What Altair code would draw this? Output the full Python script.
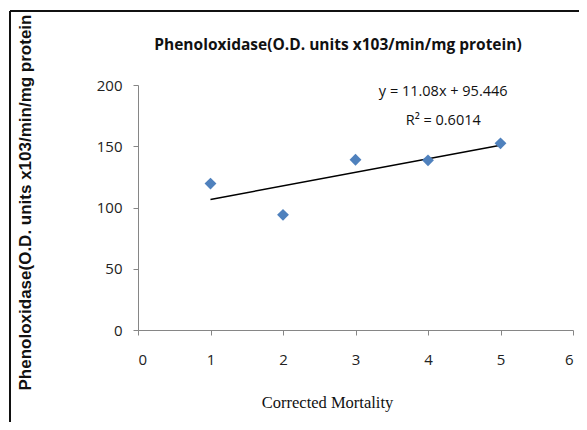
import altair as alt
import pandas as pd

# Data
mortality = [1, 2, 3, 4, 5]
phenoloxidase = [119.5, 94.0, 139.0, 138.5, 152.4]

equation_lines = ["y = 11.08x + 95.446", "R² = 0.6014"]
eq_x = [4.21, 4.21]
eq_y = [194, 171]

title_text = "Phenoloxidase(O.D. units x103/min/mg protein)"
y_title = "Phenoloxidase(O.D. units x103/min/mg protein"
x_title = "Corrected Mortality"

df = pd.DataFrame({"x": mortality, "y": phenoloxidase})
eq_df = pd.DataFrame({"x": eq_x, "y": eq_y, "t": equation_lines})

xscale = alt.Scale(domain=[0, 6], nice=False, zero=False)
yscale = alt.Scale(domain=[0, 200], nice=False)

axis_common = dict(
    grid=False,
    domainColor="#868686",
    tickColor="#868686",
    tickSize=5,
    labelFont="Open Sans",
    labelFontSize=15,
    labelColor="#222222",
    format="d",
)

base = alt.Chart(df)

points = base.mark_point(
    shape="diamond", filled=True, color="#4F81BD", size=140, opacity=1
).encode(
    x=alt.X(
        "x:Q",
        scale=xscale,
        axis=alt.Axis(
            values=[0, 1, 2, 3, 4, 5, 6],
            labelPadding=17,
            title=x_title,
            titleFont="Liberation Serif",
            titleFontSize=16.5,
            titleFontWeight="normal",
            titleColor="#111111",
            titleX=189,
            titleY=72,
            titleAlign="center",
            titleBaseline="middle",
            **axis_common,
        ),
    ),
    y=alt.Y(
        "y:Q",
        scale=yscale,
        axis=alt.Axis(
            values=[0, 50, 100, 150, 200],
            labelPadding=11,
            title=y_title,
            titleFont="Liberation Sans",
            titleFontSize=17,
            titleFontWeight="bold",
            titleColor="#111111",
            titleX=-113,
            titleY=117,
            titleAngle=-90,
            titleAlign="center",
            titleBaseline="middle",
            **axis_common,
        ),
    ),
)

trend = base.transform_regression("x", "y", method="linear").mark_line(
    color="#000000", strokeWidth=1.5
).encode(x=alt.X("x:Q", scale=xscale), y=alt.Y("y:Q", scale=yscale))

eq = alt.Chart(eq_df).mark_text(
    font="Open Sans", fontSize=14.5, color="#111111", align="center", baseline="middle"
).encode(x=alt.X("x:Q", scale=xscale), y=alt.Y("y:Q", scale=yscale), text="t:N")

title = alt.Chart(pd.DataFrame({"t": [title_text]})).mark_text(
    font="Open Sans", fontSize=15.5, fontWeight="bold", color="#111111",
    align="center", baseline="middle"
).encode(x=alt.value(200), y=alt.value(-40), text="t:N")

frame_top = alt.Chart(pd.DataFrame({"a": [0]})).mark_rule(
    color="#111111", strokeWidth=2
).encode(x=alt.value(-128), x2=alt.value(460), y=alt.value(-74))
frame_left = alt.Chart(pd.DataFrame({"a": [0]})).mark_rule(
    color="#111111", strokeWidth=2
).encode(x=alt.value(-128), y=alt.value(-74), y2=alt.value(340))

chart = (
    alt.layer(frame_top, frame_left, title, trend, points, eq)
    .properties(
        width=435,
        height=245,
        autosize="none",
        padding={"left": 130, "top": 77, "right": 6, "bottom": 92},
        background="white",
    )
    .configure_view(stroke=None)
)

chart.save("out.html", embed_options={"renderer": "svg", "actions": False})
